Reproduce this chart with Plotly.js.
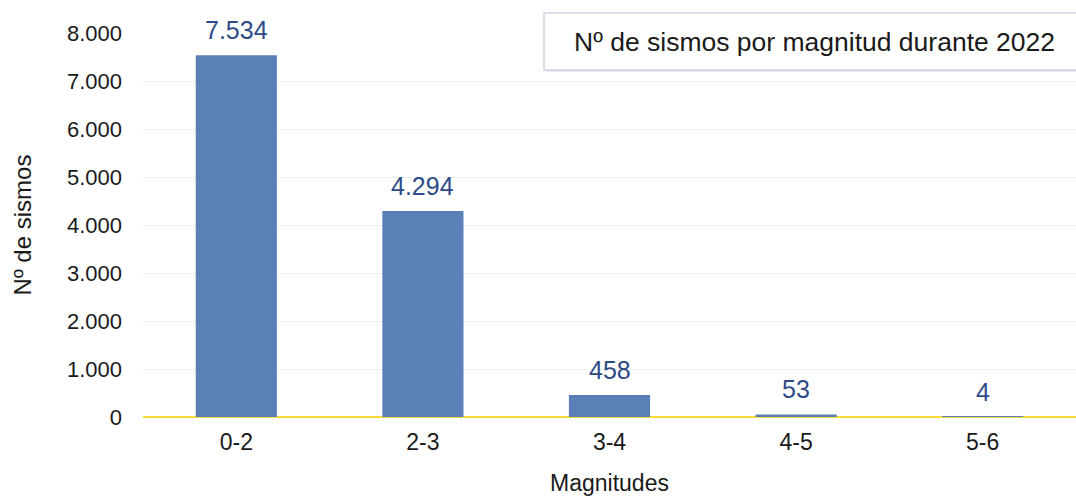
<!DOCTYPE html>
<html>
<head>
<meta charset="utf-8">
<script src="https://cdn.plot.ly/plotly-3.0.1.min.js"></script>
<style>html,body{margin:0;padding:0;background:#fff;}#chart{width:1076px;height:496px;}</style>
</head>
<body>
<div id="chart"></div>
<script>
const categories = ["0-2", "2-3", "3-4", "4-5", "5-6"];
const sismos = [7534, 4294, 458, 53, 4];
const yTicks = [0, 1000, 2000, 3000, 4000, 5000, 6000, 7000, 8000];
const chartTitle = "Nº de sismos por magnitud durante 2022";

const fontFam = '"Liberation Sans", Arial, sans-serif';

const trace = {
  type: 'bar',
  x: categories,
  y: sismos,
  marker: {color: '#5b80b8'},
  hoverinfo: 'x+y'
};

const labelAnns = categories.map((c, i) => ({
  x: c, y: sismos[i], xref: 'x', yref: 'y',
  text: sismos[i].toLocaleString('de-DE'),
  showarrow: false, yanchor: 'middle', yshift: 25,
  font: {family: fontFam, size: 25, color: '#2e4a87'}
}));

const layout = {
  width: 1076, height: 496,
  margin: {l: 143, r: 0, t: 33, b: 79},
  paper_bgcolor: '#ffffff', plot_bgcolor: '#ffffff',
  separators: ',.',
  bargap: 0.565,
  showlegend: false,
  font: {family: fontFam, color: '#1a1a1a'},
  xaxis: {
    type: 'category',
    tickfont: {size: 23, color: '#1a1a1a'},
    showgrid: false, zeroline: false, showline: false, ticks: '',
    ticklabelstandoff: 9,
    title: {text: 'Magnitudes', font: {size: 23, color: '#1a1a1a'}, standoff: 20}
  },
  yaxis: {
    range: [0, 8000],
    tickvals: yTicks,
    tickformat: ',d',
    tickfont: {size: 22, color: '#1a1a1a'},
    showgrid: true, gridcolor: '#eeeeee', gridwidth: 1,
    zeroline: true, zerolinecolor: '#f5dc3c', zerolinewidth: 2,
    showline: false, ticks: '',
    ticklabelstandoff: 20,
    title: {text: 'Nº de sismos', font: {size: 24, color: '#1a1a1a'}, standoff: 28}
  },
  shapes: [
    {type: 'rect', xref: 'paper', yref: 'paper', x0: 0.4318, x1: 1.02, y0: 0.899, y1: 1.047,
     line: {width: 0}, fillcolor: '#e4e6ee', layer: 'above'},
    {type: 'rect', xref: 'paper', yref: 'paper', x0: 0.4298, x1: 1.02, y0: 0.9036, y1: 1.052,
     line: {color: '#d0d4e2', width: 1.5}, fillcolor: '#ffffff', layer: 'above'}
  ],
  annotations: labelAnns.concat([{
    xref: 'paper', yref: 'paper', x: 0.7195, y: 0.977, xanchor: 'center', yanchor: 'middle',
    text: chartTitle, showarrow: false,
    font: {family: fontFam, size: 26.5, color: '#1a1a1a'}
  }])
};

Plotly.newPlot('chart', [trace], layout, {displayModeBar: false, responsive: false});
</script>
</body>
</html>
